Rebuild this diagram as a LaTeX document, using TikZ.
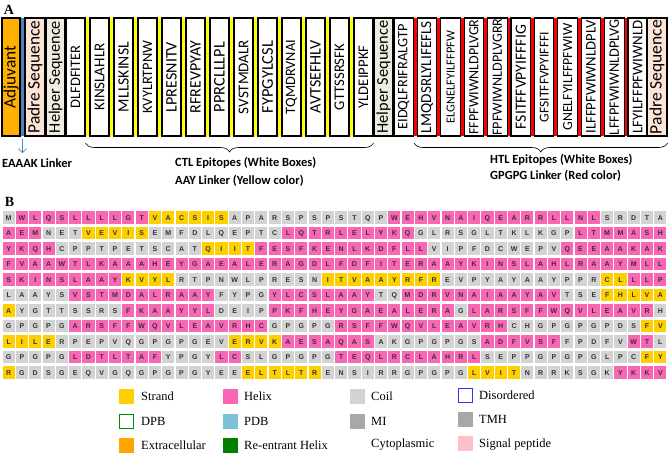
\documentclass[tikz,border=0pt]{standalone}
\usepackage{fontspec}
\usepackage{graphicx}
\setmainfont{Liberation Serif}
\newfontfamily\calibri{Carlito}
\newfontfamily\arialfont{Liberation Sans}
\usetikzlibrary{arrows.meta,decorations.pathreplacing}
\definecolor{adjColor}{RGB}{255,176,0}
\definecolor{eaaakColor}{RGB}{79,129,189}
\definecolor{padreColor}{RGB}{252,228,214}
\definecolor{helperColor}{RGB}{238,236,225}
\definecolor{aayColor}{RGB}{255,255,0}
\definecolor{gpgpgColor}{RGB}{255,0,0}
\definecolor{strand}{RGB}{255,208,0}
\definecolor{helix}{RGB}{248,102,180}
\definecolor{coil}{RGB}{211,211,211}
\definecolor{pdbColor}{RGB}{126,192,214}
\definecolor{miColor}{RGB}{168,168,168}
\definecolor{reentColor}{RGB}{0,128,0}
\definecolor{extraColor}{RGB}{255,165,0}
\definecolor{signalColor}{RGB}{255,192,203}
\begin{document}
\begin{tikzpicture}[x=1pt, y=-1pt,
  seqbox/.style={draw=black, line width=1.1pt, rotate=90, inner sep=0pt,
    minimum width=118pt},
  seqlabel/.style={font=\calibri\bfseries\fontsize{12.5}{14}\selectfont, anchor=west, inner sep=0pt},
  aa/.style={font=\arialfont\bfseries\fontsize{7}{7}\selectfont, text=black!80,
    inner sep=0pt, text height=5pt, text depth=0pt},
  lgbox/.style={minimum size=15pt, inner sep=0pt},
  lgtext/.style={font=\fontsize{12.5}{14}\selectfont, anchor=base west, inner sep=0pt},
  panel/.style={font=\bfseries\fontsize{14}{14}\selectfont, inner sep=0pt}]
\useasboundingbox (0,0) rectangle (669,459);
\def\cellw{13.3}
\def\rowh{15.5}
% Panel A: vaccine construct
\node[panel] (panelA) at (9,10) {A};
\fill[eaaakColor] (20,18) rectangle (25,136);
\coordinate (eaaak) at (22.5,136);
\node[seqbox, fill=adjColor, minimum height=18pt] (adj) at (11,77)
  {\resizebox{63pt}{!}{\calibri Adjuvant}};
\node[seqbox, fill=padreColor, minimum height=20pt] (padreL) at (35,77)
  {\resizebox{113pt}{!}{\calibri Padre Sequence}};
\node[seqbox, fill=helperColor, minimum height=19pt] (helperL) at (55.5,77)
  {\resizebox{112pt}{!}{\calibri Helper Sequence}};
% CTL epitopes with AAY linkers
\foreach \t/\l [count=\i] in {DLFDFITER/63, KINSLAHLR/67, MLLSKINSL/70, KVYLRTPNW/73,
  LPRESNITV/70, RFREVPYAY/72, PPRCLLLPL/70, SVSTMDALR/74, FYPGYLCSL/72, TQMDRVNAI/74,
  AVTSEFHLV/73, GTTSSRSFK/66, YLDEIPPKF/63} {
  \pgfmathsetmacro{\xl}{66+24*(\i-1)}
  \ifnum\i<13 \fill[aayColor] (\xl+19,18) rectangle (\xl+24,136); \fi
  \node[seqbox, fill=white, minimum height=19pt] (ctl\i) at (\xl+9.5,77)
    {\resizebox{\l pt}{!}{\calibri \t}};
}
\node[seqbox, fill=helperColor, minimum height=19pt] (helperR) at (383.5,77)
  {\resizebox{113pt}{!}{\calibri Helper Sequence}};
% HTL epitopes with GPGPG linkers
\foreach \t/\l [count=\i] in {EIDQLFRIFRALGTP/105, LMQDSRLYLIFEFLS/112, ELGNELFYILFFPFW/92,
  FFPFWIWNLDPLVGR/115, FPFWIWNLDPLVGRR/117, FSITFFVPYIFFFIG/104, GFSITFFVPYIFFFI/90,
  GNELFYILFFPFWIW/107, ILFFPFWIWNLDPLV/113, LFFPFWIWNLDPLVG/116, LFYILFFPFWIWNLD/113} {
  \pgfmathsetmacro{\xl}{394+23.4*(\i-1)}
  \ifnum\i<11 \fill[gpgpgColor] (\xl+19.5,18) rectangle (\xl+23.4,136); \fi
  \node[seqbox, fill=white, minimum height=19.5pt] (htl\i) at (\xl+9.75,77)
    {\resizebox{\l pt}{!}{\calibri \t}};
}
\node[seqbox, fill=padreColor, minimum height=20pt] (padreR) at (657,77)
  {\resizebox{114pt}{!}{\calibri Padre Sequence}};
% Linker arrow and braces
\coordinate (eaaakEnd) at (22.5,153);
\draw[eaaakColor, line width=0.7pt, shorten <=3pt, -{Straight Barb[length=4pt,width=8pt]}]
  (eaaak) -- (eaaakEnd);
\draw[decorate, decoration={brace, mirror, amplitude=9pt}, line width=0.6pt]
  (ctl1.south |- 0,143) -- (ctl13.south |- 0,143);
\draw[decorate, decoration={brace, mirror, amplitude=9pt}, line width=0.6pt]
  (htl1.south |- 0,143) -- (padreR.south |- 0,143);
\node[seqlabel] (eaaakText) at (2,163) {EAAAK Linker};
\node[seqlabel] (ctlText) at (175,163) {CTL Epitopes (White Boxes)};
\node[seqlabel] (aayText) at (175,181) {AAY Linker (Yellow color)};
\node[seqlabel] (htlText) at (490,160) {HTL Epitopes (White Boxes)};
\node[seqlabel] (gpgpgText) at (490,176) {GPGPG Linker (Red color)};
% Panel B: secondary structure
\node[panel] (panelB) at (9.5,202) {B};
% Filled cells (row/first/last/state)
\foreach \r/\a/\b/\k in {1/1/1/coil, 1/2/11/helix, 1/12/17/strand, 1/18/29/coil, 1/30/45/helix, 1/46/50/coil,
  2/1/3/helix, 2/4/6/coil, 2/7/11/strand, 2/12/21/coil, 2/22/31/helix, 2/32/43/coil, 2/44/50/helix,
  3/1/4/helix, 3/5/15/coil, 3/16/19/strand, 3/20/32/helix, 3/33/42/coil, 3/43/50/helix,
  4/1/50/helix,
  5/1/9/helix, 5/10/13/strand, 5/14/24/coil, 5/25/33/strand, 5/34/45/coil, 5/46/47/strand, 5/48/50/helix,
  6/1/5/coil, 6/6/16/helix, 6/17/20/coil, 6/21/28/helix, 6/29/30/coil, 6/31/42/helix, 6/43/45/coil, 6/46/50/strand,
  7/1/1/strand, 7/2/9/coil, 7/10/16/helix, 7/17/20/coil, 7/21/34/helix, 7/35/35/coil, 7/36/49/helix, 7/50/50/coil,
  8/1/5/coil, 8/6/20/helix, 8/21/25/coil, 8/26/38/helix, 8/39/48/coil, 8/49/50/strand,
  9/1/4/strand, 9/5/17/coil, 9/18/21/strand, 9/22/28/helix, 9/29/36/coil, 9/37/42/helix, 9/43/47/coil, 9/48/49/helix, 9/50/50/coil,
  10/1/5/coil, 10/6/12/helix, 10/13/16/coil, 10/17/18/helix, 10/19/25/coil, 10/26/36/helix, 10/37/48/coil, 10/49/50/strand,
  11/1/1/strand, 11/2/18/coil, 11/19/24/strand, 11/25/35/coil, 11/36/39/strand, 11/40/46/coil, 11/47/50/helix} {
  \foreach \c in {\a,...,\b}
    \fill[\k] ({2+\cellw*(\c-1)+0.6},{211.25+\rowh*(\r-1)}) rectangle ++(12.1,12.5);
}
% Residues
\foreach \r/\s in {
  1/{M,W,L,Q,S,L,L,L,L,G,T,V,A,C,S,I,S,A,P,A,R,S,P,S,P,S,T,Q,P,W,E,H,V,N,A,I,Q,E,A,R,R,L,L,N,L,S,R,D,T,A},
  2/{A,E,M,N,E,T,V,E,V,I,S,E,M,F,D,L,Q,E,P,T,C,L,Q,T,R,L,E,L,Y,K,Q,G,L,R,S,G,L,T,K,L,K,G,P,L,T,M,M,A,S,H},
  3/{Y,K,Q,H,C,P,P,T,P,E,T,S,C,A,T,Q,I,I,T,F,E,S,F,K,E,N,L,K,D,F,L,L,V,I,P,F,D,C,W,E,P,V,Q,E,E,A,A,K,A,K},
  4/{F,V,A,A,W,T,L,K,A,A,A,H,E,Y,G,A,E,A,L,E,R,A,G,D,L,F,D,F,I,T,E,R,A,A,Y,K,I,N,S,L,A,H,L,R,A,A,Y,M,L,L},
  5/{S,K,I,N,S,L,A,A,Y,K,V,Y,L,R,T,P,N,W,L,P,R,E,S,N,I,T,V,A,A,Y,R,F,R,E,V,P,Y,A,Y,A,A,Y,P,P,R,C,L,L,L,P},
  6/{L,A,A,Y,S,V,S,T,M,D,A,L,R,A,A,Y,F,Y,P,G,Y,L,C,S,L,A,A,Y,T,Q,M,D,R,V,N,A,I,A,A,Y,A,V,T,S,E,F,H,L,V,A},
  7/{A,Y,G,T,T,S,S,R,S,F,K,A,A,Y,Y,L,D,E,I,P,P,K,F,H,E,Y,G,A,E,A,L,E,R,A,G,L,A,R,S,F,F,W,Q,V,L,E,A,V,R,H},
  8/{G,P,G,P,G,A,R,S,F,F,W,Q,V,L,E,A,V,R,H,C,G,P,G,P,G,R,S,F,F,W,Q,V,L,E,A,V,R,H,C,H,G,P,G,P,G,P,D,S,F,V},
  9/{L,I,L,E,R,P,E,P,V,Q,G,P,G,P,G,E,V,E,R,V,K,A,E,S,A,Q,A,S,A,K,G,P,G,P,G,S,A,D,F,V,S,F,F,P,D,F,V,W,T,L},
  10/{G,P,G,P,G,L,D,T,L,T,A,F,Y,P,G,Y,L,C,S,L,G,P,G,P,G,T,E,Q,L,R,C,L,A,H,R,L,S,E,P,P,G,P,G,P,G,L,P,C,F,Y},
  11/{R,G,D,S,G,E,Q,V,G,Q,G,P,G,P,G,Y,E,E,E,L,T,L,T,R,E,N,S,I,R,R,G,P,G,P,G,L,V,I,T,N,R,R,K,S,G,K,Y,K,K,V}} {
  \foreach \ch [count=\c] in \s
    \node[aa] (g\r-\c) at ({2+\cellw*(\c-0.5)},{217.5+\rowh*(\r-1)}) {\ch};
}
% Legend
\node[lgbox, fill=strand] (lgStrand) at (126,396) {};
\node[lgtext] (lgStrandT) at (141,400.3) {Strand};
\node[lgbox, fill=helix] (lgHelix) at (230.5,396) {};
\node[lgtext] (lgHelixT) at (244,400.3) {Helix};
\node[lgbox, fill=coil] (lgCoil) at (357.5,396) {};
\node[lgtext] (lgCoilT) at (371,400.3) {Coil};
\node[lgbox, draw=blue!80, line width=1pt, minimum size=14pt] (lgDis) at (465.5,395) {};
\node[lgtext] (lgDisT) at (479,399.3) {Disordered};
\node[lgbox, draw=green!55!black, line width=1pt, minimum size=14pt] (lgDpb) at (126,421) {};
\node[lgtext] (lgDpbT) at (141,425.3) {DPB};
\node[lgbox, fill=pdbColor] (lgPdb) at (230.5,421) {};
\node[lgtext] (lgPdbT) at (244,425.3) {PDB};
\node[lgbox, fill=miColor] (lgMi) at (357.5,421) {};
\node[lgtext] (lgMiT) at (371,425.3) {MI};
\node[lgbox, fill=miColor] (lgTmh) at (465.5,419) {};
\node[lgtext] (lgTmhT) at (479,423.3) {TMH};
\node[lgbox, fill=extraColor] (lgExtra) at (126,445) {};
\node[lgtext] (lgExtraT) at (141,449.3) {Extracellular};
\node[lgbox, fill=reentColor] (lgReent) at (230.5,445) {};
\node[lgtext] (lgReentT) at (244,449.3) {Re-entrant Helix};
\node[lgtext] (lgCytoT) at (371,447.3) {Cytoplasmic};
\node[lgbox, fill=signalColor] (lgSignal) at (465.5,443) {};
\node[lgtext] (lgSignalT) at (479,447.3) {Signal peptide};
\end{tikzpicture}
\end{document}
